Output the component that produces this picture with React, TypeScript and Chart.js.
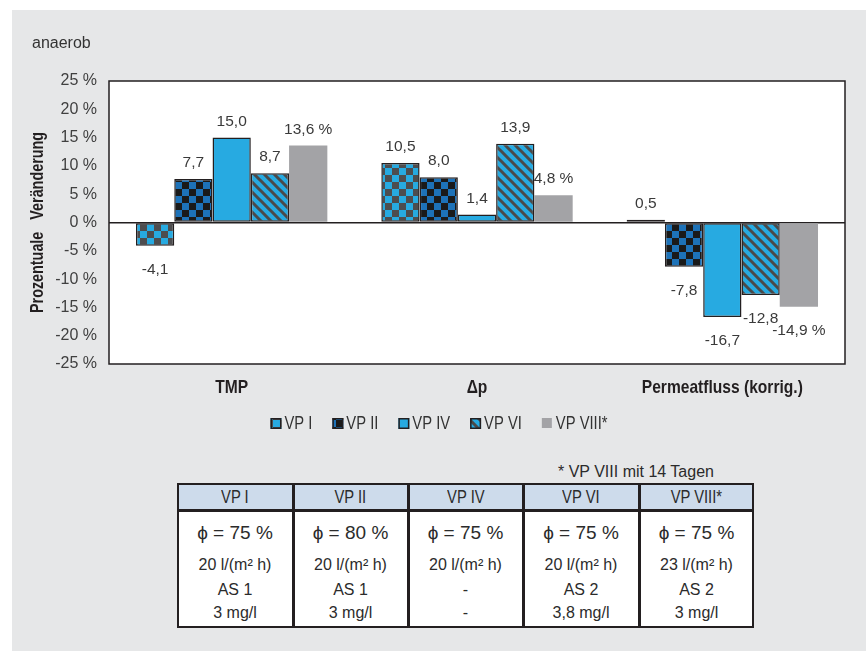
import React, { useEffect, useRef } from "react";
import { Chart, registerables } from "chart.js";

Chart.register(...registerables);

// ---- data ----
const categories = ["TMP", "Δp", "Permeatfluss (korrig.)"];
const seriesNames = ["VP I", "VP II", "VP IV", "VP VI", "VP VIII*"];
const vp1 = [-4.1, 10.5, 0.5];
const vp2 = [7.7, 8.0, -7.8];
const vp4 = [15.0, 1.4, -16.7];
const vp6 = [8.7, 13.9, -12.8];
const vp8 = [13.6, 4.8, -14.9];
const yMin = -25;
const yMax = 25;
const yStep = 5;

const tableHeaders = ["VP I", "VP II", "VP IV", "VP VI", "VP VIII*"];
const phiValues = ["75", "80", "75", "75", "75"];
const fluxValues = ["20 l/(m² h)", "20 l/(m² h)", "20 l/(m² h)", "20 l/(m² h)", "23 l/(m² h)"];
const sludgeValues = ["AS 1", "AS 1", "-", "AS 2", "AS 2"];
const dosingValues = ["3 mg/l", "3 mg/l", "-", "3,8 mg/l", "3 mg/l"];
const footnote = "* VP VIII mit 14 Tagen";
const panelTitle = "anaerob";
const yTitle = "Prozentuale   Veränderung";

// ---- styling ----
const BLUE = "#27aae1";
const GREY = "#a3a3a6";
const EDGE = "#231f20";
const TEXT = "#333333";
const SANS = "'Liberation Sans', Arial, sans-serif";
const SQUEEZE = 0.82; // horizontal scale for the condensed captions

function checker(a: string, b: string, cell: number): CanvasPattern {
  const c = document.createElement("canvas");
  c.width = cell * 2;
  c.height = cell * 2;
  const g = c.getContext("2d")!;
  g.fillStyle = a;
  g.fillRect(0, 0, cell * 2, cell * 2);
  g.fillStyle = b;
  g.fillRect(cell, 0, cell, cell);
  g.fillRect(0, cell, cell, cell);
  return g.createPattern(c, "repeat")!;
}

function stripes(bg: string, fg: string, period: number, width: number): CanvasPattern {
  const c = document.createElement("canvas");
  c.width = period;
  c.height = period;
  const g = c.getContext("2d")!;
  g.fillStyle = bg;
  g.fillRect(0, 0, period, period);
  g.strokeStyle = fg;
  g.lineWidth = width;
  g.beginPath();
  g.moveTo(-period, -period);
  g.lineTo(period * 2, period * 2);
  g.moveTo(-period, 0);
  g.lineTo(period, period * 2);
  g.moveTo(0, -period);
  g.lineTo(period * 2, period);
  g.stroke();
  return g.createPattern(c, "repeat")!;
}

const fmt = (v: number) => v.toFixed(1).replace(".", ",");

// condensed text: squeeze along the writing direction
function narrowText(
  ctx: CanvasRenderingContext2D,
  text: string,
  x: number,
  y: number,
  align: CanvasTextAlign,
  rotate = 0
) {
  ctx.save();
  ctx.translate(x, y);
  if (rotate) ctx.rotate(rotate);
  ctx.scale(SQUEEZE, 1);
  ctx.textAlign = align;
  ctx.fillText(text, 0, 0);
  ctx.restore();
}

export default function App() {
  const ref = useRef<HTMLCanvasElement | null>(null);

  useEffect(() => {
    if (!ref.current) return;
    const fills: (string | CanvasPattern)[] = [
      checker("#4d4d4f", BLUE, 7),
      checker("#1a1a1a", "#1d72b8", 7),
      BLUE,
      stripes(BLUE, "#4a4a4a", 10, 3),
      GREY,
    ];
    const values = [vp1, vp2, vp4, vp6, vp8];

    const decor = {
      id: "decor",
      beforeDraw(chart: any) {
        const { ctx, chartArea: a } = chart;
        ctx.save();
        ctx.fillStyle = "#ffffff";
        ctx.fillRect(a.left, a.top, a.right - a.left, a.bottom - a.top);
        ctx.fillStyle = TEXT;
        ctx.font = `16px ${SANS}`;
        ctx.textBaseline = "alphabetic";
        ctx.textAlign = "left";
        ctx.fillText(panelTitle, 32, 48);
        ctx.restore();
      },
      afterDraw(chart: any) {
        const { ctx, chartArea: a } = chart;
        ctx.save();
        // plot frame
        ctx.strokeStyle = EDGE;
        ctx.lineWidth = 1.5;
        ctx.strokeRect(a.left, a.top, a.right - a.left, a.bottom - a.top);

        // y axis title
        ctx.fillStyle = EDGE;
        ctx.font = `bold 17.5px ${SANS}`;
        ctx.textBaseline = "middle";
        narrowText(ctx, yTitle, 38, (a.top + a.bottom) / 2, "center", -Math.PI / 2);

        // category captions
        const xs = chart.scales.x;
        ctx.font = `bold 19px ${SANS}`;
        ctx.textBaseline = "middle";
        categories.forEach((c, i) => {
          narrowText(ctx, c, xs.getPixelForValue(i), a.bottom + 24, "center");
        });

        // value labels
        ctx.font = `15.5px ${SANS}`;
        ctx.fillStyle = "#3a3a3a";
        ctx.textAlign = "center";
        ctx.textBaseline = "alphabetic";
        chart.data.datasets.forEach((ds: any, i: number) => {
          const meta = chart.getDatasetMeta(i);
          meta.data.forEach((el: any, j: number) => {
            const v = ds.data[j] as number;
            const txt = fmt(v) + (i === seriesNames.length - 1 ? " %" : "");
            const top = Math.min(el.y, el.base);
            const bottom = Math.max(el.y, el.base);
            const y = v >= 0 ? top - 12 : bottom + 28;
            ctx.fillText(txt, el.x, y);
          });
        });

        // legend
        ctx.font = `18px ${SANS}`;
        ctx.textBaseline = "middle";
        const box = 11;
        const gapIn = 3;
        const gapOut = 20;
        const widths = seriesNames.map((n) => ctx.measureText(n).width * SQUEEZE);
        const total = widths.reduce((s, w) => s + box + gapIn + w, 0) + gapOut * (seriesNames.length - 1);
        let x = 439 - total / 2;
        const yBox = 418;
        seriesNames.forEach((n, i) => {
          if (i === seriesNames.length - 1) {
            ctx.fillStyle = GREY;
            ctx.fillRect(x, yBox, box - 1, box - 1);
          } else {
            ctx.fillStyle = fills[i];
            ctx.fillRect(x, yBox, box, box);
            ctx.strokeStyle = EDGE;
            ctx.lineWidth = 1.5;
            ctx.strokeRect(x + 0.75, yBox + 0.75, box - 1.5, box - 1.5);
          }
          ctx.fillStyle = TEXT;
          narrowText(ctx, n, x + box + gapIn, yBox + box / 2 + 1, "left");
          x += box + gapIn + widths[i] + gapOut;
        });
        ctx.restore();
      },
    };

    const chart = new Chart(ref.current, {
      type: "bar",
      data: {
        labels: categories,
        datasets: seriesNames.map((name, i) => ({
          label: name,
          data: values[i],
          backgroundColor: fills[i] as any,
          borderColor: EDGE,
          borderWidth: i === seriesNames.length - 1 ? 0 : 1.5,
          borderSkipped: false,
          categoryPercentage: 0.78,
          barPercentage: 1,
        })),
      },
      options: {
        animation: false,
        responsive: false,
        maintainAspectRatio: false,
        layout: { padding: { left: 0, right: 21, top: 81, bottom: 36 } },
        plugins: {
          legend: { display: false },
          tooltip: { enabled: false },
          title: { display: false },
        },
        scales: {
          x: {
            grid: { display: false },
            border: { display: false },
            ticks: { display: false },
            afterFit: (s: any) => {
              s.height = 40;
            },
          },
          y: {
            min: yMin,
            max: yMax,
            border: { display: false },
            grid: {
              drawTicks: false,
              color: (c: any) => (c.tick && c.tick.value === 0 ? EDGE : "rgba(0,0,0,0)"),
              lineWidth: 1.5,
            },
            ticks: {
              stepSize: yStep,
              padding: 12,
              color: "#404040",
              font: { family: SANS, size: 16 },
              callback: (v: any) => `${v} %`,
            },
            afterFit: (s: any) => {
              s.width = 109;
            },
          },
        },
      },
      plugins: [decor],
    });
    return () => chart.destroy();
  }, []);

  const colEdges = [177, 293, 408, 523, 639, 754];
  const tTop = 483;
  const tHead = 510;
  const tBottom = 628;

  const cellText = (
    key: string,
    i: number,
    cy: number,
    text: React.ReactNode,
    size: number,
    condensed = false
  ) => (
    <div
      key={key}
      style={{
        position: "absolute",
        left: colEdges[i],
        width: colEdges[i + 1] - colEdges[i],
        top: cy - 12,
        height: 24,
        lineHeight: "24px",
        textAlign: "center",
        fontFamily: SANS,
        fontSize: size,
        color: "#2b2b2b",
        whiteSpace: "nowrap",
      }}
    >
      <span
        style={{
          display: "inline-block",
          transform: condensed ? `scaleX(${SQUEEZE})` : undefined,
        }}
      >
        {text}
      </span>
    </div>
  );

  return (
    <div
      style={{
        position: "absolute",
        left: 0,
        top: 0,
        width: 866,
        height: 651,
        background: "#ffffff",
        overflow: "hidden",
      }}
    >
      <div
        style={{
          position: "absolute",
          left: 12,
          top: 10,
          width: 854,
          height: 641,
          background: "#e6e7e8",
        }}
      />
      <canvas
        ref={ref}
        width={866}
        height={440}
        style={{ position: "absolute", left: 0, top: 0, width: 866, height: 440 }}
      />
      <div
        style={{
          position: "absolute",
          left: 558,
          top: 460,
          height: 24,
          lineHeight: "24px",
          fontFamily: SANS,
          fontSize: 16,
          color: "#2b2b2b",
          whiteSpace: "nowrap",
        }}
      >
        {footnote}
      </div>
      {/* table body and header background */}
      <div
        style={{
          position: "absolute",
          left: colEdges[0],
          top: tTop,
          width: colEdges[5] - colEdges[0],
          height: tBottom - tTop,
          background: "#ffffff",
        }}
      />
      <div
        style={{
          position: "absolute",
          left: colEdges[0],
          top: tTop,
          width: colEdges[5] - colEdges[0],
          height: tHead - tTop,
          background: "#cddbeb",
        }}
      />
      {/* grid lines */}
      <div
        style={{
          position: "absolute",
          left: colEdges[0],
          top: tTop,
          width: colEdges[5] - colEdges[0],
          height: tBottom - tTop,
          border: `2.5px solid ${EDGE}`,
          boxSizing: "border-box",
        }}
      />
      {colEdges.slice(1, 5).map((x) => (
        <div
          key={`v${x}`}
          style={{ position: "absolute", left: x - 1, top: tTop, width: 2.5, height: tBottom - tTop, background: EDGE }}
        />
      ))}
      <div
        style={{
          position: "absolute",
          left: colEdges[0],
          top: tHead - 1,
          width: colEdges[5] - colEdges[0],
          height: 2.5,
          background: EDGE,
        }}
      />
      {tableHeaders.map((h, i) => cellText(`h${i}`, i, 497, h, 18, true))}
      {phiValues.map((p, i) => cellText(`p${i}`, i, 533, `ϕ = ${p} %`, 19))}
      {fluxValues.map((f, i) => cellText(`f${i}`, i, 565, f, 16))}
      {sludgeValues.map((s, i) => cellText(`s${i}`, i, 590, s, 16))}
      {dosingValues.map((d, i) => cellText(`d${i}`, i, 613, d, 16))}
    </div>
  );
}
